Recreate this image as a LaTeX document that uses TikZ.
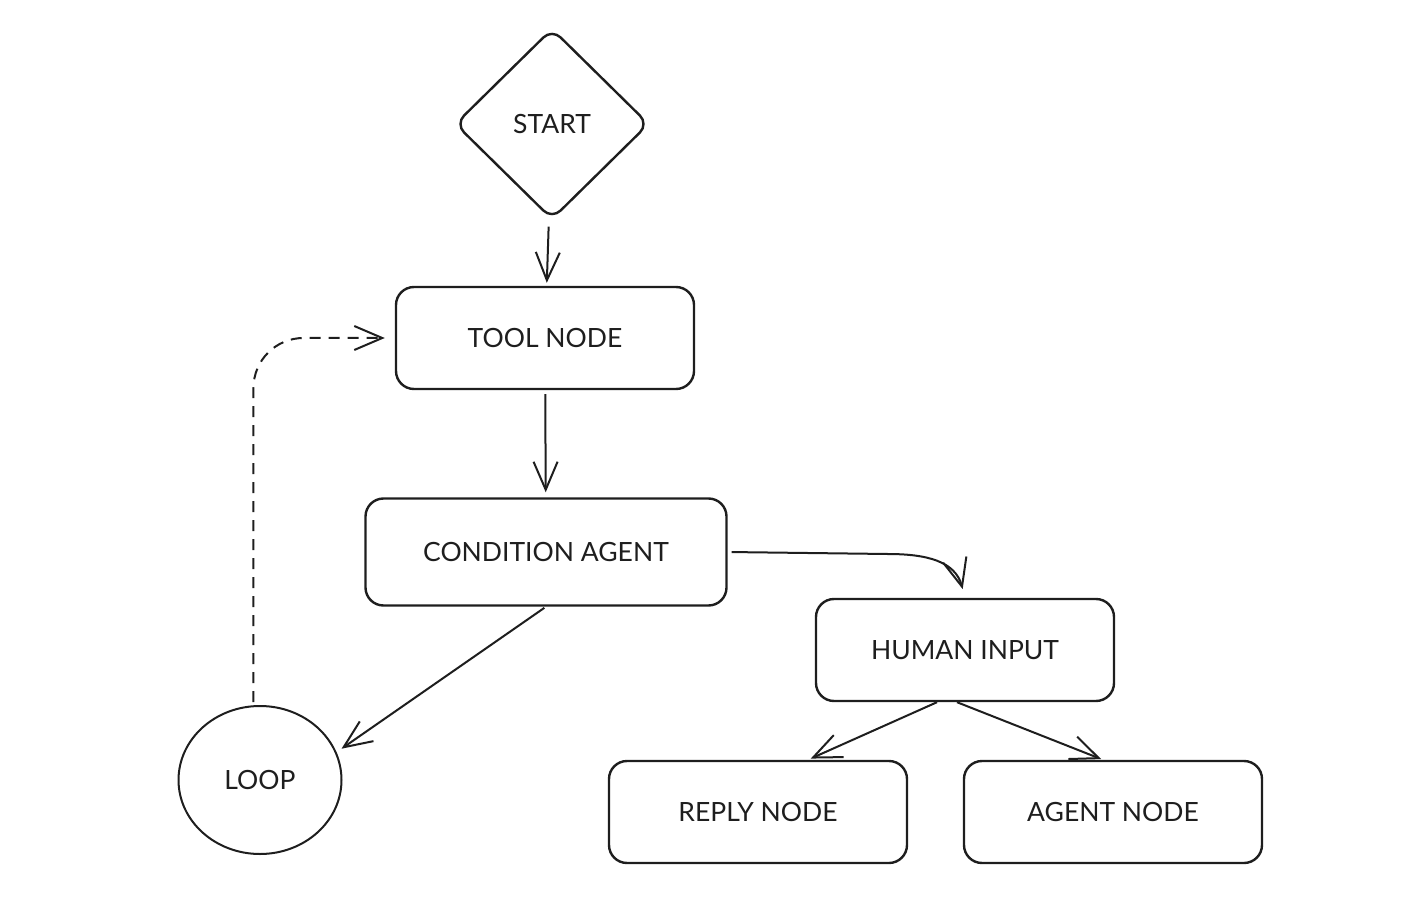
\documentclass[tikz,border=0pt]{standalone}
\usepackage{fontspec}
\setmainfont{Lato}
\usetikzlibrary{shapes.geometric,arrows.meta}

\definecolor{ink}{HTML}{1E1E1E}

\begin{document}
\begin{tikzpicture}[
  x=1pt, y=-1pt,
  every node/.style={text=ink, font=\fontsize{26.5}{31}\selectfont},
  box/.style={draw=ink, line width=2.4pt, rounded corners=18pt, minimum width=298pt, minimum height=102pt}, % rounded boxes
  widebox/.style={box, minimum width=361pt, minimum height=107pt},
  decision/.style={draw=ink, diamond, line width=2.4pt, rounded corners=12pt, inner sep=0pt, minimum width=194pt, minimum height=191pt},
  loopnode/.style={draw=ink, ellipse, line width=2pt, inner sep=0pt, minimum width=163pt, minimum height=148pt},
  flow/.style={draw=ink, line width=2pt, -{Straight Barb[length=28pt, width=24pt, line width=2pt]}}
]
  \useasboundingbox (0,0) rectangle (1411,901);

  \node [decision] (start) at (552,124) {START};
  \node [box] (tool) at (545,338) {TOOL NODE};
  \node [widebox] (cond) at (546,552) {CONDITION AGENT};
  \node [box] (human) at (965,650) {HUMAN INPUT};
  \node [box] (reply) at (758,812) {REPLY NODE};
  \node [box] (agent) at (1113,812) {AGENT NODE};
  \node [loopnode] (loop) at (260,780) {LOOP};

  \draw [flow, shorten <=9pt, shorten >=3pt] (start) -- (tool);
  \draw [flow, shorten <=4pt, shorten >=5pt] (tool) -- (cond);
  \draw [flow, shorten <=4pt, shorten >=9pt] (cond.east) -- ++(160,2) to[out=0, in=105, looseness=1.1] (human.north);
  \draw [flow, shorten <=2pt, shorten >=6pt] (cond.south) -- (loop.20);
  \draw [flow, dashed, dash pattern=on 11pt off 8pt, rounded corners=50pt, shorten <=3pt, shorten >=10pt] (loop.95) |- (tool.west);
  \draw [flow, shorten >=3pt] ([xshift=-28pt]human.south) -- ([xshift=50pt]reply.north);
  \draw [flow, shorten >=2pt] ([xshift=-8pt]human.south) -- ([xshift=-10pt]agent.north);
\end{tikzpicture}
\end{document}
